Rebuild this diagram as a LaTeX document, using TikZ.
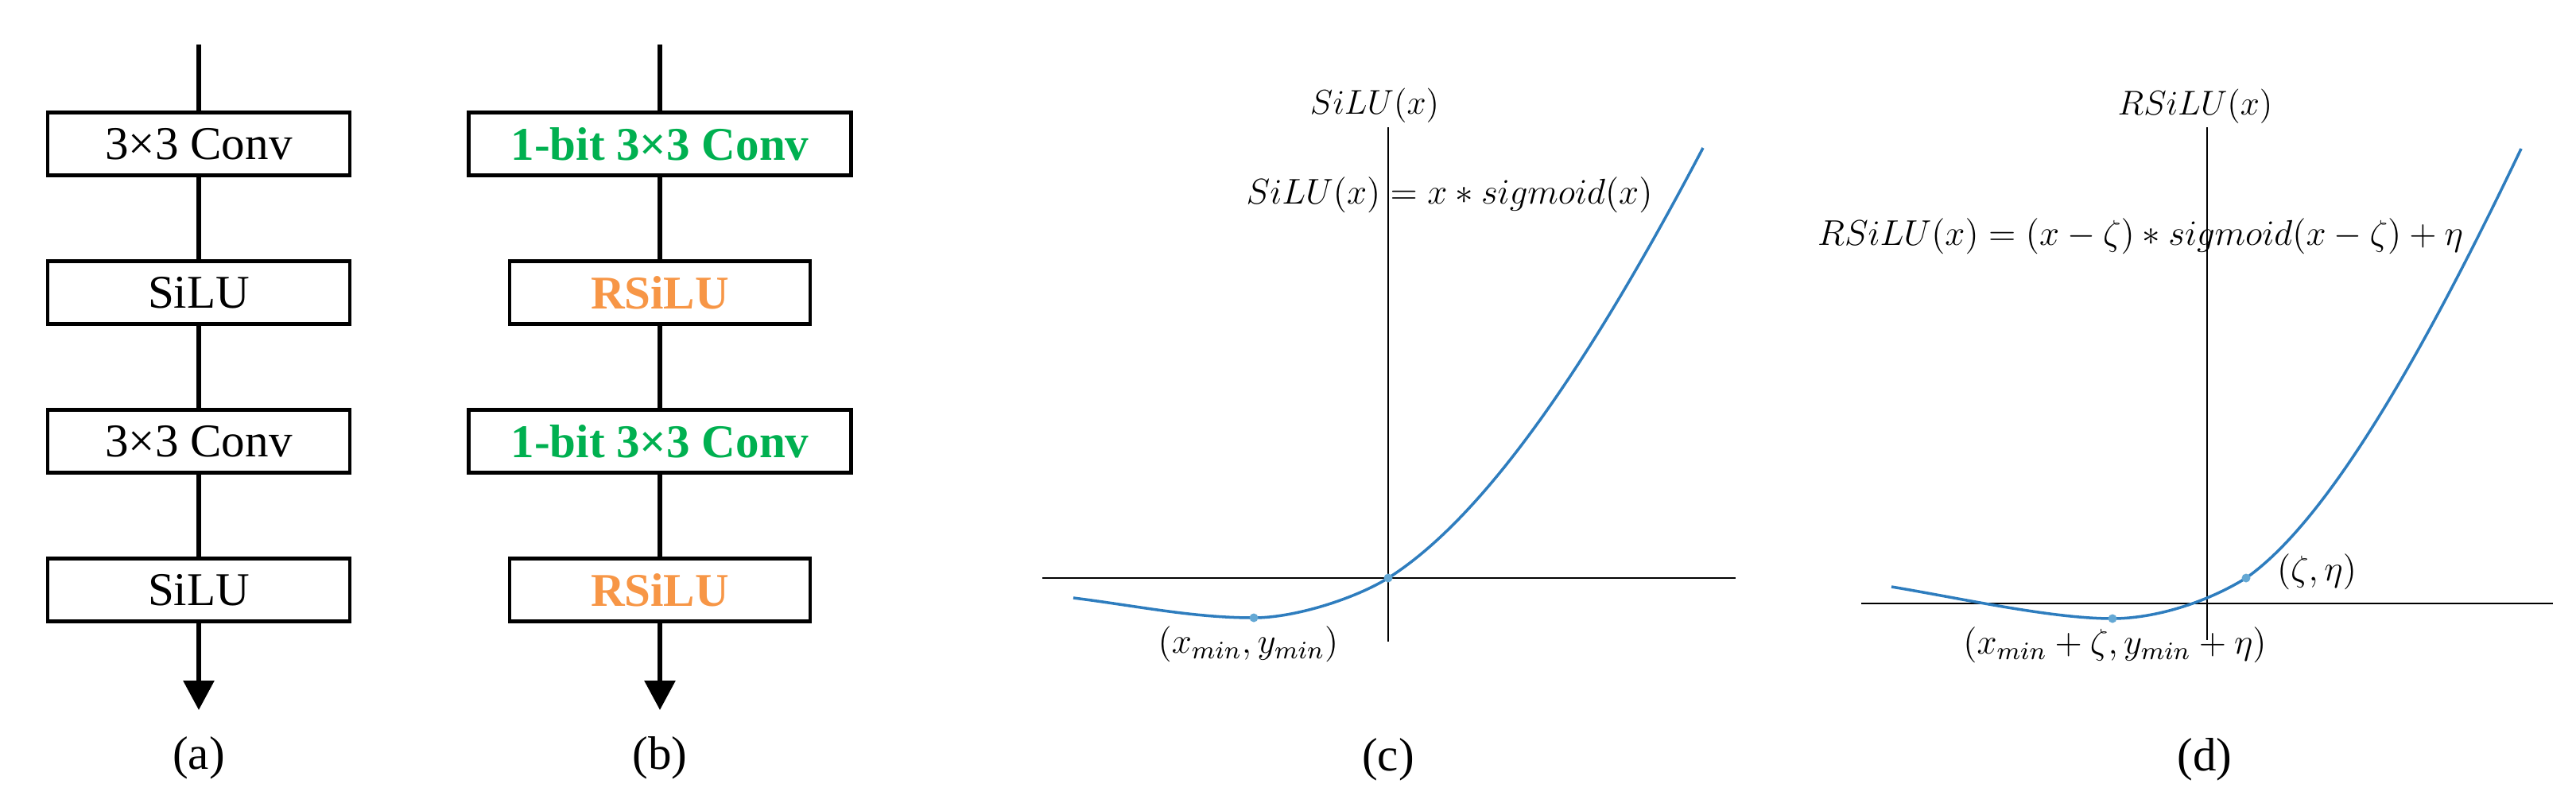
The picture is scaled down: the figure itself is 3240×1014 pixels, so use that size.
\documentclass[tikz,border=0pt]{standalone}
\usepackage{fix-cm}
\usepackage{fontspec}
\setmainfont{Liberation Serif}
\usetikzlibrary{arrows.meta}
\definecolor{bgreen}{HTML}{00B050}
\definecolor{borange}{HTML}{F79646}
\definecolor{cblue}{RGB}{46,125,190}
\definecolor{dblue}{RGB}{100,168,212}
\begin{document}
\begin{tikzpicture}[x=0.1mm,y=-0.1mm,
  blk/.style={draw, line width=1.4pt, minimum height=7.9mm, inner sep=0pt,
    font=\fontsize{16.8}{20}\selectfont},
  gtxt/.style={text=bgreen, font=\fontsize{16.8}{20}\selectfont\bfseries},
  otxt/.style={text=borange, font=\fontsize{16.8}{20}\selectfont\bfseries},
  flow/.style={line width=1.7pt},
  flowend/.style={line width=1.7pt, -{Triangle[length=3.7mm,width=3.8mm]}},
  axis/.style={line width=0.55pt},
  curve/.style={cblue, line width=1pt},
  dot/.style={circle, fill=dblue, inner sep=0pt, minimum size=1.1mm},
  mlab/.style={font=\fontsize{12.8}{15}\selectfont, inner sep=0pt},
  tlab/.style={font=\fontsize{12.3}{14}\selectfont, inner sep=0pt},
  captxt/.style={font=\fontsize{16.8}{20}\selectfont, inner sep=0pt}]
\useasboundingbox (0,0) rectangle (3240,1014);

% ---------- (a) ----------
\coordinate (atop) at (250,56);
\coordinate (aend) at (250,893);
\node[blk, minimum width=38mm] (a1) at (250,181) {3×3 Conv};
\node[blk, minimum width=38mm] (a2) at (250,368) {SiLU};
\node[blk, minimum width=38mm] (a3) at (250,555) {3×3 Conv};
\node[blk, minimum width=38mm] (a4) at (250,742) {SiLU};
\draw[flow] (atop) -- (a1.north);
\draw[flow] (a1.south) -- (a2.north);
\draw[flow] (a2.south) -- (a3.north);
\draw[flow] (a3.south) -- (a4.north);
\draw[flowend] (a4.south) -- (aend);
\node[captxt] (acap) at (250,953) {(a)};

% ---------- (b) ----------
\coordinate (btop) at (830,56);
\coordinate (bend) at (830,893);
\node[blk, minimum width=48.1mm, gtxt] (b1) at (830,181) {1-bit 3×3 Conv};
\node[blk, minimum width=37.8mm, otxt] (b2) at (830,368) {RSiLU};
\node[blk, minimum width=48.1mm, gtxt] (b3) at (830,555) {1-bit 3×3 Conv};
\node[blk, minimum width=37.8mm, otxt] (b4) at (830,742) {RSiLU};
\draw[flow] (btop) -- (b1.north);
\draw[flow] (b1.south) -- (b2.north);
\draw[flow] (b2.south) -- (b3.north);
\draw[flow] (b3.south) -- (b4.north);
\draw[flowend] (b4.south) -- (bend);
\node[captxt] (bcap) at (830,953) {(b)};

% ---------- (c) ----------
\draw[axis] (1311,727) -- (2183,727);
\draw[axis] (1746,160) -- (1746,807);
\coordinate (cs) at (1350,752);
\coordinate (ce) at (2142,186);
\draw[curve] (cs) .. controls (1430,762) and (1500,777) .. (1577,777)
  .. controls (1630,777) and (1706,752) .. (1746,727)
  .. controls (1876,645) and (2012,433) .. (ce);
\node[dot] (cmin) at (1577,777) {};
\node[dot] (corg) at (1746,727) {};
\node[tlab] (ctitle) at (1729,133) {$SiLU(x)$};
\node[mlab] (cform) at (1823,245) {$SiLU(x) = x \ast sigmoid(x)$};
\node[mlab] (cminlab) at (1570,810) {$(x_{min}, y_{min})$};
\node[captxt] (ccap) at (1746,955) {(c)};

% ---------- (d) ----------
\draw[axis, line width=0.45pt] (2341,759) -- (3211,759);
\draw[axis, line width=0.45pt] (2776,160) -- (2776,805);
\coordinate (ds) at (2379,738);
\coordinate (de) at (3171,187);
\draw[curve] (ds) .. controls (2469,753) and (2580,778) .. (2657,778)
  .. controls (2710,778) and (2775,758) .. (2825,727)
  .. controls (2935,650) and (3061,417) .. (de);
\node[dot] (dmin) at (2657,778) {};
\node[dot] (dpt) at (2825,727) {};
\node[tlab] (dtitle) at (2761,134) {$RSiLU(x)$};
\node[mlab] (dform) at (2692,297) {$RSiLU(x) = (x-\zeta) \ast sigmoid(x-\zeta) + \eta$};
\node[mlab] (dptlab) at (2914,719) {$(\zeta,\eta)$};
\node[mlab] (dminlab) at (2660,811) {$(x_{min}+\zeta, y_{min}+\eta)$};
\node[captxt] (dcap) at (2773,955) {(d)};
\end{tikzpicture}
\end{document}
